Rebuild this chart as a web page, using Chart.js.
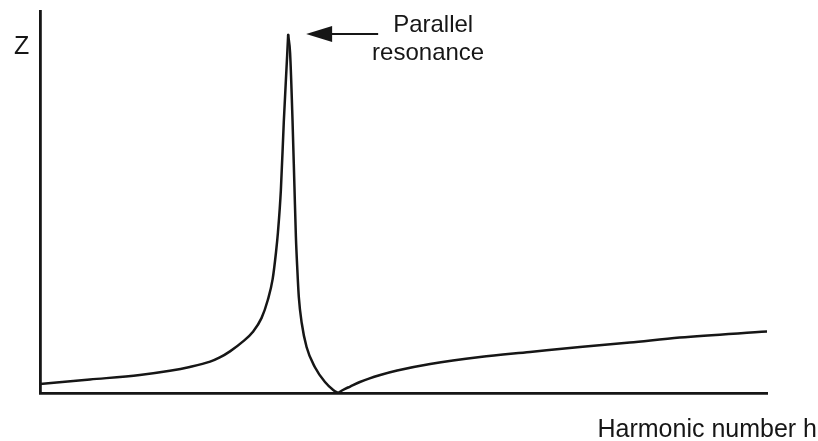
<!DOCTYPE html>
<html>
<head>
<meta charset="utf-8">
<title>Parallel resonance</title>
<script src="https://cdn.jsdelivr.net/npm/chart.js@4"></script>
<style>
  html, body { margin: 0; padding: 0; background: #fff; }
  #wrap { width: 818px; height: 441px; }
</style>
</head>
<body>
<div id="wrap"><canvas id="c" width="818" height="441"></canvas></div>
<script>
// Harmonic number h (x) and impedance magnitude Z (y, arbitrary units)
const harmonic = [
  0.00, 1.03, 2.06, 2.68, 3.09, 3.51, 3.71, 3.92, 4.19, 4.39, 4.57, 4.70, 4.80, 4.87, 4.91,
  4.97, 5.03, 5.10, 5.12,
  5.16, 5.21, 5.25, 5.28, 5.31, 5.34, 5.40, 5.50, 5.67, 5.88, 6.05, 6.15,
  6.25, 6.40, 6.60, 7.02, 7.37, 8.05, 9.08, 10.11, 11.14, 12.17, 13.20, 15.00
];
const impedance = [
  2.36, 3.53, 4.71, 5.80, 6.80, 8.20, 9.30, 10.90, 13.50, 15.97, 19.60, 24.35, 29.80, 36.91, 42.15,
  53.14, 70.94, 88.48, 93.72,
  89.01, 71.47, 53.93, 40.84, 32.20, 25.13, 18.32, 12.04, 6.81, 2.88, 0.79, 0,
  0.79, 1.70, 2.88, 4.71, 5.89, 7.59, 9.42, 10.73, 12.04, 13.22, 14.53, 16.10
];

const axisLabelX = 'Harmonic number h';
const axisLabelY = 'Z';
const peakLabel = ['Parallel', 'resonance'];

const ink = '#161616';
const FONT = '"Liberation Sans", Arial, Helvetica, sans-serif';

const points = harmonic.map((h, i) => ({ x: h, y: impedance[i] }));

// The curve has two sharp corners (the resonance peak and the zero between
// the branches), so it is drawn as three smooth monotone pieces meeting there.
const iPeak = impedance.indexOf(Math.max(...impedance));
const iZero = impedance.indexOf(Math.min(...impedance.slice(iPeak)), iPeak);
const peakH = harmonic[iPeak];
const pieces = [
  points.slice(0, iPeak + 1),
  points.slice(iPeak, iZero + 1),
  points.slice(iZero)
];

// Axis names and the arrow pointing at the resonance peak
const annotations = {
  id: 'annotations',
  afterDraw(chart) {
    const { ctx, chartArea, scales } = chart;
    const px = scales.x.getPixelForValue(peakH);
    const tipX = px + 18;
    const tipY = 34;
    ctx.save();
    ctx.fillStyle = ink;
    ctx.strokeStyle = ink;

    // arrow shaft + head
    ctx.lineWidth = 2;
    ctx.beginPath();
    ctx.moveTo(tipX + 20, tipY);
    ctx.lineTo(tipX + 72, tipY);
    ctx.stroke();
    ctx.beginPath();
    ctx.moveTo(tipX, tipY);
    ctx.lineTo(tipX + 26, tipY - 8);
    ctx.lineTo(tipX + 26, tipY + 8);
    ctx.closePath();
    ctx.fill();

    // peak label
    ctx.font = '24px ' + FONT;
    ctx.textAlign = 'center';
    ctx.textBaseline = 'alphabetic';
    ctx.fillText(peakLabel[0], tipX + 127, 32);
    ctx.fillText(peakLabel[1], tipX + 122, 60);

    // y-axis name
    ctx.font = '25px ' + FONT;
    ctx.textAlign = 'left';
    ctx.fillText(axisLabelY, chartArea.left - 26, 54);

    // x-axis name
    ctx.textAlign = 'right';
    ctx.fillText(axisLabelX, 817, 437);
    ctx.restore();
  }
};

new Chart(document.getElementById('c'), {
  type: 'line',
  data: {
    datasets: pieces.map(d => ({
      data: d,
      borderColor: ink,
      borderWidth: 2.5,
      pointRadius: 0,
      cubicInterpolationMode: 'monotone',
      borderCapStyle: 'round',
      fill: false
    }))
  },
  options: {
    responsive: false,
    animation: false,
    layout: { padding: { left: 40, top: 11, right: 51, bottom: 48 } },
    plugins: { legend: { display: false }, tooltip: { enabled: false } },
    scales: {
      x: {
        type: 'linear', min: 0, max: 15,
        grid: { display: false, drawTicks: false },
        ticks: { display: false },
        border: { display: true, color: ink, width: 2.8 }
      },
      y: {
        min: 0, max: 100,
        grid: { display: false, drawTicks: false },
        ticks: { display: false },
        border: { display: true, color: ink, width: 2.8 }
      }
    }
  },
  plugins: [annotations]
});
</script>
</body>
</html>
